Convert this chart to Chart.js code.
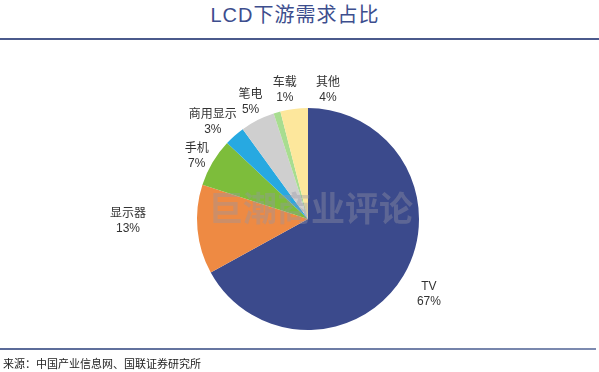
<!DOCTYPE html>
<html>
<head>
<meta charset="utf-8">
<script src="https://cdn.jsdelivr.net/npm/chart.js@4"></script>
<style>
  html, body { margin: 0; padding: 0; background: #fff; }
  #wrap { position: relative; width: 599px; height: 372px; overflow: hidden; font-family: "Liberation Sans", "Noto Sans CJK SC", sans-serif; }
  #title { position: absolute; left: 0; width: 590px; top: 3px; text-align: center; font-size: 20px; color: #3d4e8e; letter-spacing: 1px; line-height: 24px; }
  #topLine { position: absolute; left: 0; top: 38px; width: 599px; height: 2px; background: #4b5a8c; }
  #botLine { position: absolute; left: 0; top: 348px; width: 596px; height: 2px; background: linear-gradient(to right, #5a6a98, #7d8bb0); }
  #source { position: absolute; left: 3px; top: 356px; font-size: 11px; color: #222; line-height: 16px; }
  canvas { position: absolute; left: 0; top: 0; }
</style>
</head>
<body>
<div id="wrap">
  <div id="title">LCD下游需求占比</div>
  <div id="topLine"></div>
  <canvas id="pie" width="599" height="372"></canvas>
  <div id="botLine"></div>
  <div id="source">来源：中国产业信息网、国联证券研究所</div>
</div>
<script>
// --- Data ---
const categories = ['TV', '显示器', '手机', '商用显示', '笔电', '车载', '其他'];
const shares = [67, 13, 7, 3, 5, 1, 4];
const sliceColors = ['#3b4a8c', '#ee8a43', '#7dbd3b', '#27a9e1', '#cfcfcf', '#a8dd90', '#fde79c'];

// label placement: extra radial distance and angle nudge (deg) per slice
const labelPlace = [
    { dist: 31, turn: 1 },
    { dist: 69, turn: 5 },
    { dist: 17, turn: -1 },
    { dist: 25, turn: -3 },
    { dist: 20, turn: 1 },
    { dist: 20, turn: 6 },
    { dist: 20, turn: 16 }
];

const outsideLabels = {
    id: 'outsideLabels',
    afterDatasetsDraw(chart) {
        const ctx = chart.ctx;
        const arcs = chart.getDatasetMeta(0).data;
        ctx.save();
        // watermark
        ctx.font = 'bold 34px "Noto Sans CJK SC", sans-serif';
        ctx.fillStyle = 'rgba(150, 150, 165, 0.38)';
        ctx.textAlign = 'center';
        ctx.textBaseline = 'middle';
        ctx.fillText('巨潮商业评论', 311, 208);

        ctx.font = '12px "Liberation Sans", "Noto Sans CJK SC", sans-serif';
        ctx.fillStyle = '#333';
        arcs.forEach((arc, i) => {
            const p = labelPlace[i];
            const mid = (arc.startAngle + arc.endAngle) / 2 + p.turn * Math.PI / 180;
            const r = arc.outerRadius + p.dist;
            const x = arc.x + Math.cos(mid) * r;
            const y = arc.y + Math.sin(mid) * r;
            ctx.fillText(categories[i], x, y - 7);
            ctx.fillText(shares[i] + '%', x, y + 8);
        });
        ctx.restore();
    }
};

new Chart(document.getElementById('pie'), {
    type: 'pie',
    data: {
        labels: categories,
        datasets: [{ data: shares, backgroundColor: sliceColors, borderWidth: 0 }]
    },
    options: {
        responsive: false,
        animation: false,
        layout: { padding: { left: 197, right: 180, top: 108, bottom: 42 } },
        plugins: { legend: { display: false }, tooltip: { enabled: false } }
    },
    plugins: [outsideLabels]
});
</script>
</body>
</html>
